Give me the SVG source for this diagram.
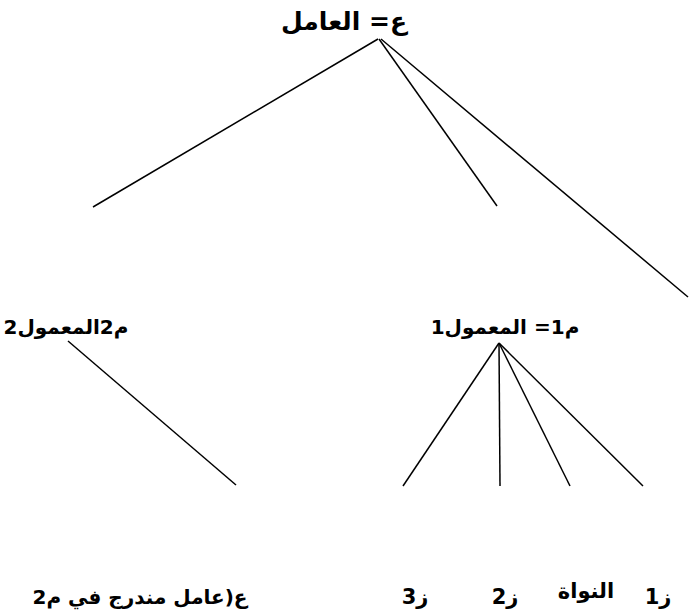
<svg xmlns="http://www.w3.org/2000/svg" width="689" height="616" viewBox="0 0 689 616">
<style>
text{font-family:"DejaVu Sans","Noto Sans",sans-serif;font-weight:bold;font-size:21px;fill:#000;direction:rtl;unicode-bidi:embed;text-anchor:middle}
.s{font-size:20px}
.t{font-size:25px}
.c line{stroke:#000;stroke-width:1.5}
</style>
<rect width="689" height="616" fill="#fff"/>
<g id="connectors" class="c">
<line x1="378" y1="39" x2="93" y2="207"/>
<line x1="379" y1="39" x2="497" y2="206"/>
<line x1="381" y1="39" x2="688" y2="297"/>
<line x1="499" y1="343" x2="403" y2="486"/>
<line x1="499" y1="343" x2="500" y2="486"/>
<line x1="499" y1="343" x2="570" y2="486"/>
<line x1="499" y1="343" x2="643" y2="486"/>
<line x1="68" y1="341" x2="236" y2="485"/>
</g>
<g id="n-amil"><text class="t" x="344" y="30">ع= العامل</text></g>
<g id="n-mamul2"><text class="s" x="66" y="334">م2المعمول2</text></g>
<g id="n-mamul1"><text class="s" x="505" y="334">م1= المعمول1</text></g>
<g id="n-amil2"><text class="s" x="140" y="604">ع(عامل مندرج في م2</text></g>
<g id="n-z3"><text x="415" y="604">ز3</text></g>
<g id="n-z2"><text x="505" y="604">ز2</text></g>
<g id="n-nawat"><text x="586" y="598">النواة</text></g>
<g id="n-z1"><text x="658" y="604">ز1</text></g>
</svg>
